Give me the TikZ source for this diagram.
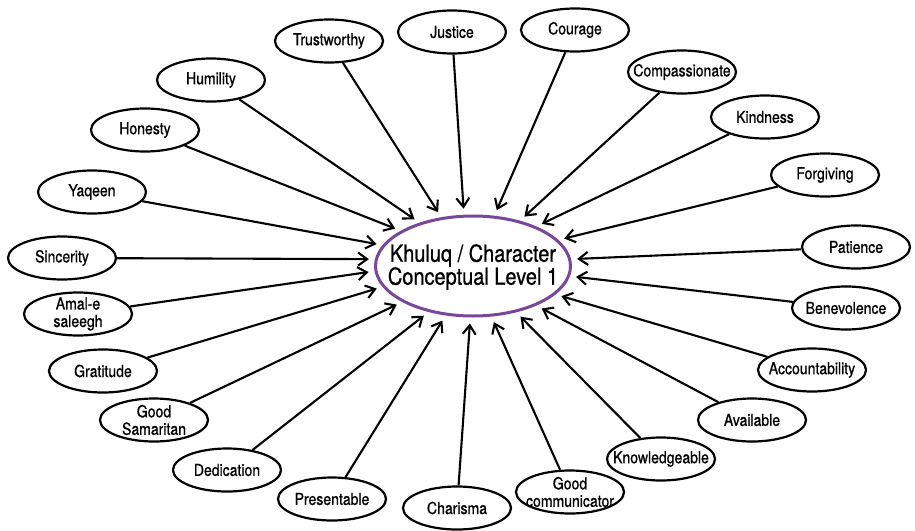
\documentclass[tikz,border=0pt]{standalone}
\usepackage{fontspec}
\setmainfont{TeX Gyre Heros}[FakeStretch=0.85,FakeBold=0.8]
\usetikzlibrary{shapes.geometric,arrows.meta}
\definecolor{ringpurple}{RGB}{120,70,155}
\begin{document}
\begin{tikzpicture}[x=1pt,y=-1pt,
  bubble/.style={ellipse,draw,line width=2.2pt,minimum width=108pt,minimum height=43pt,inner sep=0pt},
  word/.style={font=\fontsize{16.5}{17.5}\selectfont,align=center,inner sep=0pt},
  core/.style={ellipse,draw=ringpurple,line width=3pt,minimum width=195pt,minimum height=100pt,inner sep=0pt},
  coreword/.style={font=\fontsize{23.5}{23}\selectfont,align=center,inner sep=0pt},
  link/.style={line width=2.1pt,-{Straight Barb[length=9pt,width=13pt]},shorten >=6pt}
]
\useasboundingbox (0,0) rectangle (915,530);

% central concept
\node[core] (c) at (473,266) {};
\node[coreword] (ctext) at (473,267) {Khuluq / Character\\Conceptual Level 1};

% surrounding traits: name / x / y / text / arrival angle on the core
\foreach \nm/\px/\py/\lab/\ang in {
  trust/329/41/Trustworthy/123,
  justice/452/32/Justice/100,
  courage/575/30/Courage/67,
  compass/682/72/Compassionate/44,
  kind/765/117/Kindness/32,
  forgive/825/175/Forgiving/17,
  patience/856/247/Patience/4,
  benev/846/308/Benevolence/-6,
  account/812/370/Accountability/-19,
  avail/752/420/Available/-32,
  knowl/661/459/Knowledgeable/-47,
  goodcom/570/492/{Good\\communicator}/-70,
  charisma/457/508/Charisma/-93,
  present/332/499/Presentable/-119,
  dedic/227/470/Dedication/-134,
  samar/154/420/{Good\\Samaritan}/-153,
  grat/103/371/Gratitude/-167,
  amal/78/314/{Amal-e\\saleegh}/-177,
  sincer/62/258/Sincerity/176,
  yaqeen/92/192/Yaqeen/167,
  honesty/145/130/Honesty/154,
  humility/211/80/Humility/141}{
  \node[bubble] (\nm) at (\px,\py) {};
  \node[word] (\nm-t) at (\nm) {\lab};
  \draw[link] (\nm) -- (c.\ang);
}
\end{tikzpicture}
\end{document}
